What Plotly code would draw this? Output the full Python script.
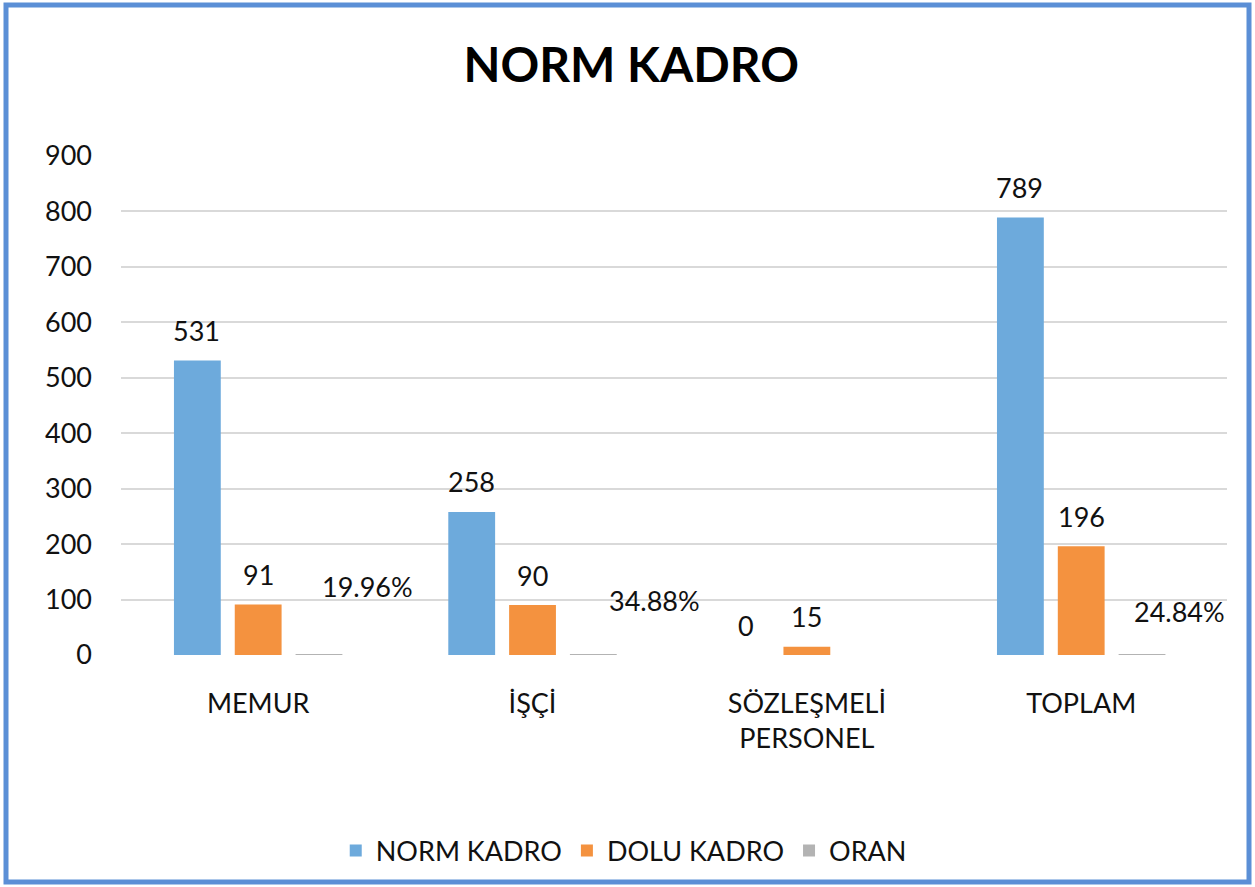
import plotly.graph_objects as go

# ---- data ----
categories = ["MEMUR", "İŞÇİ", "SÖZLEŞMELİ<br>PERSONEL", "TOPLAM"]
norm_kadro = [531, 258, 0, 789]
dolu_kadro = [91, 90, 15, 196]
oran = [0.1996, 0.3488, None, 0.2484]
oran_labels = ["19.96%", "34.88%", "", "24.84%"]
series_names = ["NORM KADRO", "DOLU KADRO", "ORAN"]
y_ticks = [0, 100, 200, 300, 400, 500, 600, 700, 800, 900]

# ---- layout / style ----
W, H = 1255, 887
ML, MR, MT, MB = 121, 28, 156, 232
PLOT_W = W - ML - MR
BARGAP = 0.335
BARGROUPGAP = 0.23
COLORS = ["#6DAADC", "#F4923F", "#B3B3B3"]
FONT = "Lato"
TXT = "#111111"
FS = 27
SLOT = PLOT_W / len(categories) * (1 - BARGAP) / 3
LABEL_LIFT = 30
# manual offsets of the ORAN labels (px: right of the grey bar, up from its top)
ORAN_LABEL_SHIFT = [(48, 68), (61, 54), (0, 0), (37, 43)]

fig = go.Figure()
for name, vals, col in zip(series_names, [norm_kadro, dolu_kadro, oran], COLORS):
    fig.add_trace(go.Bar(x=categories, y=vals, name=name, marker_color=col,
                         marker_line_width=0))

annotations = []
for si, vals in enumerate([norm_kadro, dolu_kadro]):
    for c, v in zip(categories, vals):
        annotations.append(dict(x=c, y=v, xref="x", yref="y", text=str(v),
                                showarrow=False, xshift=(si - 1) * SLOT,
                                yshift=LABEL_LIFT, yanchor="middle",
                                font=dict(family=FONT, size=FS, color=TXT)))
for c, v, lab, (dx, dy) in zip(categories, oran, oran_labels, ORAN_LABEL_SHIFT):
    if v is None:
        continue
    annotations.append(dict(x=c, y=v, xref="x", yref="y", text=lab,
                            showarrow=False, xshift=SLOT + dx, yshift=dy,
                            yanchor="middle",
                            font=dict(family=FONT, size=FS, color=TXT)))

px2x = lambda p: (p - ML) / PLOT_W
px2y = lambda p: (H - MB - p) / (H - MT - MB)

fig.update_layout(
    width=W, height=H,
    margin=dict(l=ML, r=MR, t=MT, b=MB),
    paper_bgcolor="white", plot_bgcolor="white",
    barmode="group", bargap=BARGAP, bargroupgap=BARGROUPGAP,
    font=dict(family=FONT, size=FS, color=TXT),
    title=dict(text="<b>NORM KADRO</b>", x=0.503, xanchor="center",
               y=1 - 65 / H, yanchor="middle", yref="container",
               font=dict(family=FONT, size=48, color="#000000")),
    xaxis=dict(showgrid=False, showline=False, zeroline=False, ticks="",
               ticklabelstandoff=30, tickfont=dict(size=FS, color=TXT)),
    yaxis=dict(range=[0, 900], tickvals=y_ticks, showgrid=True,
               gridcolor="#D9D9D9", gridwidth=2, zeroline=False,
               showline=False, ticks="", ticklabelstandoff=28,
               tickfont=dict(size=FS, color=TXT)),
    legend=dict(orientation="h", x=0.497, xanchor="center", xref="container",
                y=1 - 851 / H, yanchor="middle", yref="container",
                font=dict(size=FS, color=TXT), itemclick=False),
    annotations=annotations,
    shapes=[dict(type="rect", xref="paper", yref="paper",
                 x0=px2x(6), x1=px2x(1249), y0=px2y(882), y1=px2y(5),
                 line=dict(color="#5B8FD6", width=5), fillcolor="rgba(0,0,0,0)",
                 layer="above")],
)

fig.write_html("out.html", config={"displayModeBar": False},
               post_script="document.body.style.margin='0';"
                           "document.body.style.padding='0';")
